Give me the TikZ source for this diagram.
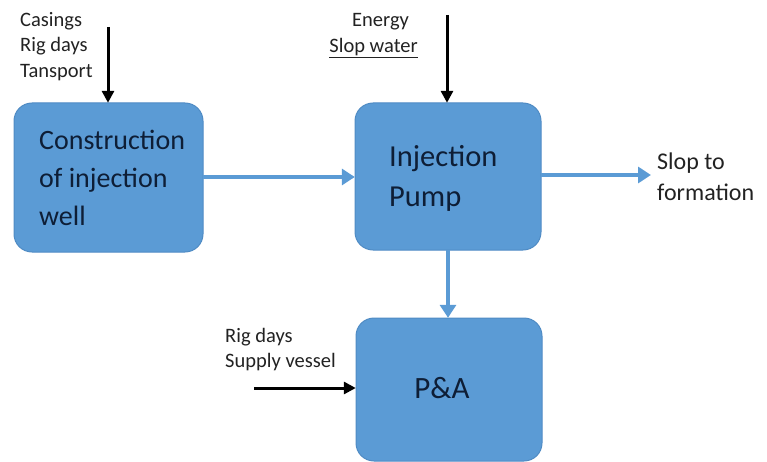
\documentclass[tikz,border=0pt]{standalone}
\usepackage{fontspec}
\setmainfont{Carlito}
\usetikzlibrary{arrows.meta}
\definecolor{boxblue}{HTML}{5B9BD5}
\definecolor{boxedge}{HTML}{4F8BC4}
\definecolor{boxtext}{HTML}{0E1E36}
\definecolor{lbl}{HTML}{222222}
\begin{document}
\begin{tikzpicture}[x=1pt,y=-1pt,
  procbox/.style={fill=boxblue,draw=boxedge,line width=1pt,rounded corners=18pt},
  boxlbl/.style={text=boxtext,font=\fontsize{28}{38}\selectfont,align=left,anchor=west,inner sep=0pt},
  inlbl/.style={text=lbl,font=\fontsize{20.5}{25.5}\selectfont,inner sep=0pt},
  blueflow/.style={draw=boxblue,line width=4pt,-{Triangle[length=13pt,width=16pt]}},
  blackflow/.style={draw=black,line width=3pt,-{Triangle[length=12pt,width=12pt]}}]
\useasboundingbox (0,0) rectangle (767,462);
% boxes
\draw[procbox] (14,103) rectangle (203,252);
\draw[procbox] (355,103) rectangle (541,250);
\draw[procbox] (356,318) rectangle (542,461);
\node (c1) [inner sep=0pt, minimum width=189pt, minimum height=149pt] at (108.5,177.5) {};
\node (c2) [inner sep=0pt, minimum width=186pt, minimum height=147pt] at (448,176.5) {};
\node (c3) [inner sep=0pt, minimum width=186pt, minimum height=143pt] at (449,389.5) {};
% box texts
\node[boxlbl] (t1) at (39,178) {Construction\\of injection\\well};
\node[boxlbl,font=\fontsize{30.5}{40}\selectfont] (t2) at (389,178) {Injection\\Pump};
\node[text=boxtext,font=\fontsize{31}{36}\selectfont,inner sep=0pt] (t3) at (442,388) {P\&A};
% blue flows
\draw[blueflow] (c1.east |- 0,177) -- (c2.west |- 0,177);
\coordinate (sf) at (651,175);
\draw[blueflow] (c2.east |- 0,175) -- (sf);
\draw[blueflow] (448,250) -- (c3.north -| 448,0);
% labels
\node[inlbl,anchor=west,font=\fontsize{24}{31}\selectfont,align=left] (slop) at (657,177) {Slop to\\formation};
\node[inlbl,anchor=north west,align=left] (in1) at (20,12) {Casings\\Rig days\\Tansport};
\node[inlbl,anchor=north west] (in2a) at (352,13) {Energy};
\node[inlbl,anchor=north east] (in2b) at (418,38.5) {\underline{Slop water}};
\node[inlbl,anchor=north west,align=left] (in3) at (225,328) {Rig days\\Supply vessel};
% black flows
\coordinate (a1) at (108,27);
\coordinate (a2) at (447,15);
\coordinate (a3) at (254,388);
\draw[blackflow] (a1) -- (c1.north -| a1);
\draw[blackflow] (a2) -- (c2.north -| a2);
\draw[blackflow] (a3) -- (c3.west |- a3);
\end{tikzpicture}
\end{document}
